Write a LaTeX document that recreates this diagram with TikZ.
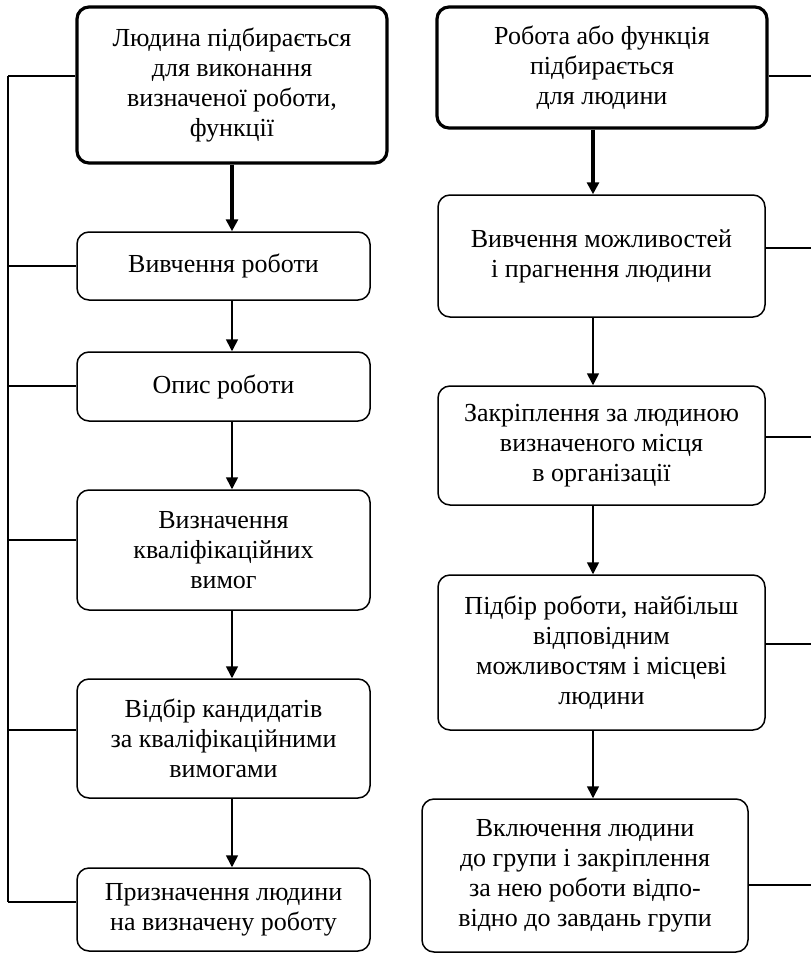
\documentclass[tikz,border=0pt]{standalone}
\usepackage{fontspec}
\setmainfont{Liberation Serif}
\usetikzlibrary{arrows.meta}
\begin{document}
\begin{tikzpicture}[x=0.5pt,y=-0.5pt,
  box/.style={draw, rounded corners=6pt, line width=0.75pt, align=center,
    font=\fontsize{13}{15}\selectfont, inner sep=0pt},
  head/.style={box, line width=1.6pt},
  link/.style={line width=0.7pt},
  arr/.style={line width=0.8pt, -{Triangle[width=6pt,length=6pt]}},
  thickarr/.style={arr, line width=1.6pt}]
\useasboundingbox (0,0) rectangle (811,954);

% left column
\node[head, minimum width=155pt, minimum height=78pt] (L1) at (232,85)
  {Людина підбирається\\для виконання\\визначеної роботи,\\функції};
\node[box, minimum width=146.5pt, minimum height=34pt] (L2) at (223.5,266)
  {Вивчення роботи};
\node[box, minimum width=146.5pt, minimum height=34.5pt] (L3) at (223.5,386.5)
  {Опис роботи};
\node[box, minimum width=146.5pt, minimum height=60pt] (L4) at (223.5,550)
  {Визначення\\кваліфікаційних\\вимог};
\node[box, minimum width=146.5pt, minimum height=59.5pt] (L5) at (223.5,738.5)
  {Відбір кандидатів\\за кваліфікаційними\\вимогами};
\node[box, minimum width=146.5pt, minimum height=41.5pt] (L6) at (223.5,909.5)
  {Призначення людини\\на визначену роботу};

% right column
\node[head, minimum width=165pt, minimum height=60.5pt] (R1) at (602,67.5)
  {Робота або функція\\підбирається\\для людини};
\node[box, minimum width=163.5pt, minimum height=61pt] (R2) at (601.5,256)
  {Вивчення можливостей\\і прагнення людини};
\node[box, minimum width=163.5pt, minimum height=59.5pt] (R3) at (601.5,445.5)
  {Закріплення за людиною\\визначеного місця\\в організації};
\node[box, minimum width=163.5pt, minimum height=77.5pt] (R4) at (601.5,652.5)
  {Підбір роботи, найбільш\\відповідним\\можливостям і місцеві\\людини};
\node[box, minimum width=163pt, minimum height=76.5pt] (R5) at (585,875.5)
  {Включення людини\\до групи і закріплення\\за нею роботи відпо-\\відно до завдань групи};

% arrow axes
\coordinate (ax) at (232,0);
\coordinate (bx) at (593,0);

% left flow
\draw[thickarr] (L1.south) -- (L1.south |- L2.north);
\draw[arr] (L2.south -| ax) -- (L3.north -| ax);
\draw[arr] (L3.south -| ax) -- (L4.north -| ax);
\draw[arr] (L4.south -| ax) -- (L5.north -| ax);
\draw[arr] (L5.south -| ax) -- (L6.north -| ax);

% right flow
\draw[thickarr] (R1.south -| bx) -- (R2.north -| bx);
\draw[arr] (R2.south -| bx) -- (R3.north -| bx);
\draw[arr] (R3.south -| bx) -- (R4.north -| bx);
\draw[arr] (R4.south -| bx) -- (R5.north -| bx);

% left bus
\coordinate (b1) at (8,76);
\coordinate (b2) at (8,266);
\coordinate (b3) at (8,386);
\coordinate (b4) at (8,540);
\coordinate (b5) at (8,730);
\coordinate (b6) at (8,902);
\draw[link] (b1) -- (b6);
\draw[link] (b1) -- (b1 -| L1.west);
\draw[link] (b2) -- (b2 -| L2.west);
\draw[link] (b3) -- (b3 -| L3.west);
\draw[link] (b4) -- (b4 -| L4.west);
\draw[link] (b5) -- (b5 -| L5.west);
\draw[link] (b6) -- (b6 -| L6.west);

% right stubs
\coordinate (r1) at (811,76);
\coordinate (r2) at (811,248);
\coordinate (r3) at (811,437);
\coordinate (r4) at (811,644);
\coordinate (r5) at (811,885);
\draw[link] (R1.east |- r1) -- (r1);
\draw[link] (R2.east |- r2) -- (r2);
\draw[link] (R3.east |- r3) -- (r3);
\draw[link] (R4.east |- r4) -- (r4);
\draw[link] (R5.east |- r5) -- (r5);
\end{tikzpicture}
\end{document}
